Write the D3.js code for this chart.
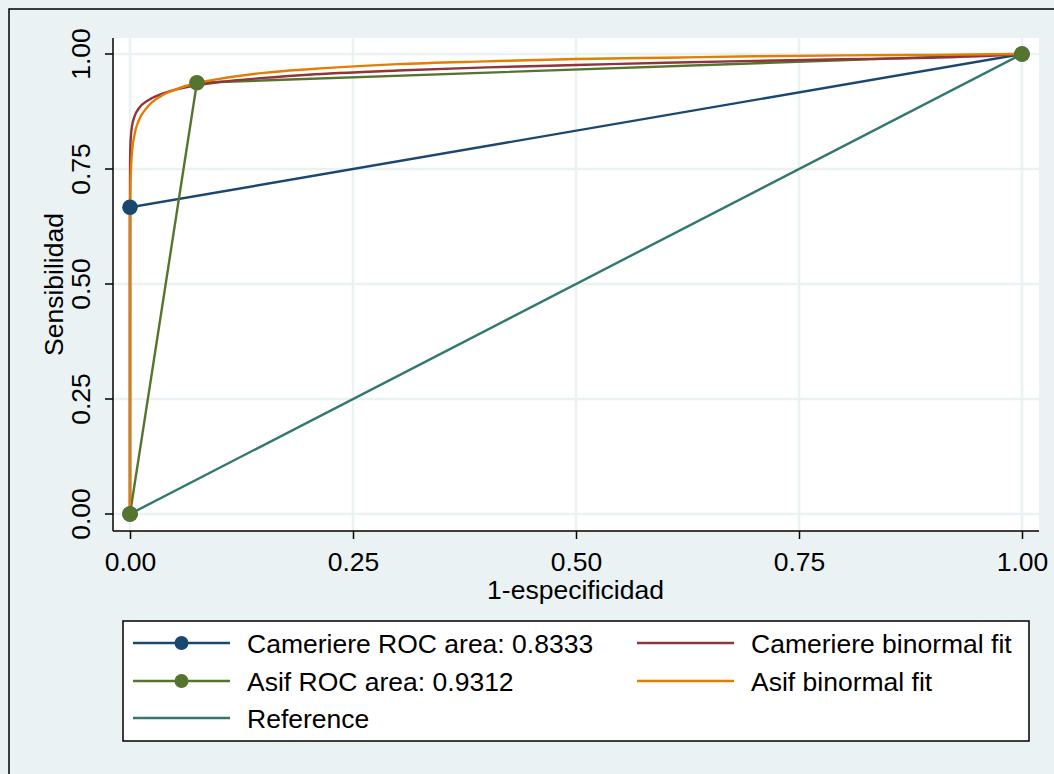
<!DOCTYPE html>
<html>
<head>
<meta charset="utf-8">
<script src="https://cdn.jsdelivr.net/npm/d3@7"></script>
<style>
  body { margin: 0; background: #eaf2f3; }
  svg { display: block; font-family: "Liberation Sans", Arial, sans-serif; }
</style>
</head>
<body>
<svg id="viz" width="1054" height="774"></svg>
<script>
// ---------- data ----------
const ticks = [0, 0.25, 0.5, 0.75, 1];
const tickLabels = ["0.00", "0.25", "0.50", "0.75", "1.00"];

// empirical ROC points [1-specificity, sensitivity]
const camerierePts = [[0, 0], [0, 0.6667], [1, 1]];
const asifPts = [[0, 0], [0.075, 0.9375], [1, 1]];
const referencePts = [[0, 0], [1, 1]];

// binormal fitted curves
const camerFit = [
  [0, 0], [0.00001, 0.697], [0.0001, 0.760], [0.0005, 0.803], [0.001, 0.821],
  [0.002, 0.840], [0.005, 0.864], [0.01, 0.882], [0.02, 0.899], [0.035, 0.913],
  [0.05, 0.922], [0.075, 0.932], [0.1, 0.939], [0.15, 0.948], [0.2, 0.955],
  [0.3, 0.964], [0.4, 0.971], [0.5, 0.976], [0.6, 0.981], [0.7, 0.985],
  [0.8, 0.9885], [0.9, 0.992], [0.95, 0.995], [1, 1]
];
const asifFit = [
  [0, 0], [0.00001, 0.518], [0.0001, 0.630], [0.0005, 0.711], [0.001, 0.746],
  [0.002, 0.780], [0.005, 0.824], [0.01, 0.856], [0.02, 0.886], [0.035, 0.909],
  [0.05, 0.922], [0.075, 0.937], [0.1, 0.946], [0.15, 0.959], [0.2, 0.967],
  [0.3, 0.978], [0.4, 0.984], [0.5, 0.989], [0.6, 0.992], [0.7, 0.995],
  [0.8, 0.997], [0.9, 0.998], [1, 1]
];

const C = {
  navy: "#1a476f", maroon: "#90353b", green: "#55752f",
  orange: "#e37e00", teal: "#32786e", grid: "#eaf2f3", bg: "#eaf2f3"
};
const FS = 26.5;

// ---------- layout ----------
const svg = d3.select("#viz");
const region = { x0: 112, x1: 1039, y0: 38, y1: 531 };

const x = d3.scaleLinear().domain([0, 1]).range([130, 1022]);
const y = d3.scaleLinear().domain([0, 1]).range([514, 54]);

// outer graph region border
svg.append("rect")
  .attr("x", 9).attr("y", 9).attr("width", 1070).attr("height", 800)
  .attr("fill", C.bg).attr("stroke", "#000").attr("stroke-width", 1.5);

// plot region
svg.append("rect")
  .attr("x", region.x0).attr("y", region.y0)
  .attr("width", region.x1 - region.x0).attr("height", region.y1 - region.y0)
  .attr("fill", "#fff");

// grid
const grid = svg.append("g").attr("stroke", C.grid).attr("stroke-width", 2.5);
grid.selectAll("line.gx").data(ticks).join("line")
  .attr("x1", d => x(d)).attr("x2", d => x(d))
  .attr("y1", region.y0).attr("y2", region.y1);
grid.selectAll("line.gy").data(ticks).join("line")
  .attr("y1", d => y(d)).attr("y2", d => y(d))
  .attr("x1", region.x0).attr("x2", region.x1);

// axes
const yAxis = d3.axisLeft(y).tickValues(ticks).tickFormat((d, i) => tickLabels[i])
  .tickSize(8).tickSizeOuter(0);
const xAxis = d3.axisBottom(x).tickValues(ticks).tickFormat((d, i) => tickLabels[i])
  .tickSize(8).tickSizeOuter(0);

const gy = svg.append("g").attr("transform", `translate(${region.x0 + 1},0)`).call(yAxis);
gy.select(".domain").attr("d", `M0,${region.y0}V${region.y1}`);
gy.selectAll(".tick").attr("transform", "translate(0,0)");
gy.selectAll(".tick text")
  .attr("font-size", FS).attr("fill", "#000")
  .attr("transform", "rotate(-90)")
  .attr("text-anchor", "middle")
  .attr("x", d => -y(d))
  .attr("y", -23.5)
  .attr("dy", 0);
gy.selectAll(".tick line").attr("y1", d => y(d)).attr("y2", d => y(d)).attr("stroke-width", 1.5);

const gx = svg.append("g").attr("transform", `translate(0,${region.y1})`).call(xAxis);
gx.select(".domain").attr("d", `M${region.x0 + 1},0H${region.x1}`);
gx.selectAll(".tick text").attr("font-size", FS).attr("fill", "#000")
  .attr("y", 39.5).attr("dy", 0);
gx.selectAll(".tick line").attr("stroke-width", 1.5);
svg.selectAll(".domain").attr("stroke", "#000").attr("stroke-width", 1.5);

// axis titles
svg.append("text")
  .attr("transform", `translate(63,${(region.y0 + region.y1) / 2}) rotate(-90)`)
  .attr("text-anchor", "middle").attr("font-size", FS)
  .text("Sensibilidad");
svg.append("text")
  .attr("x", (region.x0 + region.x1) / 2).attr("y", 599)
  .attr("text-anchor", "middle").attr("font-size", FS)
  .text("1-especificidad");

// ---------- series ----------
const line = d3.line().x(d => x(d[0])).y(d => y(d[1]));
const smooth = d3.line().x(d => x(d[0])).y(d => y(d[1])).curve(d3.curveMonotoneX);
const plot = svg.append("g").attr("fill", "none").attr("stroke-width", 2.4);

plot.append("path").attr("d", line(referencePts)).attr("stroke", C.teal);
plot.append("path").attr("d", line(camerierePts)).attr("stroke", C.navy);
plot.append("path").attr("d", line(asifPts)).attr("stroke", C.green);
plot.append("path").attr("d", smooth(camerFit)).attr("stroke", C.maroon);
plot.append("path").attr("d", smooth(asifFit)).attr("stroke", C.orange);

svg.append("g").selectAll("circle").data(camerierePts).join("circle")
  .attr("cx", d => x(d[0])).attr("cy", d => y(d[1])).attr("r", 7.8).attr("fill", C.navy);
svg.append("g").selectAll("circle").data(asifPts).join("circle")
  .attr("cx", d => x(d[0])).attr("cy", d => y(d[1])).attr("r", 7.8).attr("fill", C.green);

// ---------- legend ----------
const legendItems = [
  { label: "Cameriere ROC area: 0.8333", color: C.navy, marker: true, col: 0, row: 0 },
  { label: "Cameriere binormal fit", color: C.maroon, marker: false, col: 1, row: 0 },
  { label: "Asif ROC area: 0.9312", color: C.green, marker: true, col: 0, row: 1 },
  { label: "Asif binormal fit", color: C.orange, marker: false, col: 1, row: 1 },
  { label: "Reference", color: C.teal, marker: false, col: 0, row: 2 }
];

svg.append("rect")
  .attr("x", 123).attr("y", 621).attr("width", 906).attr("height", 120)
  .attr("fill", "#fff").attr("stroke", "#000").attr("stroke-width", 1.5);

const colX = [133, 637];
const rowY = [643, 681, 718];
const li = svg.append("g").selectAll("g").data(legendItems).join("g")
  .attr("transform", d => `translate(${colX[d.col]},${rowY[d.row]})`);
li.append("line").attr("x1", 0).attr("x2", 97).attr("y1", 0).attr("y2", 0)
  .attr("stroke", d => d.color).attr("stroke-width", 2.4);
li.filter(d => d.marker).append("circle")
  .attr("cx", 48.5).attr("cy", 0).attr("r", 7).attr("fill", d => d.color);
li.append("text").attr("x", 114).attr("y", 9.5).attr("font-size", FS)
  .text(d => d.label);
</script>
</body>
</html>
